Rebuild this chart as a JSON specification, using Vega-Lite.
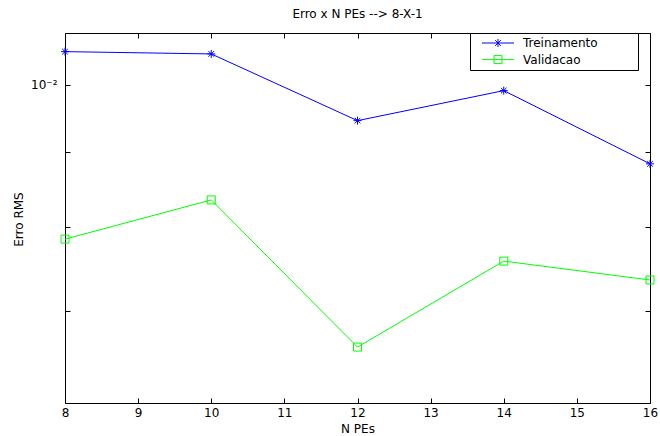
{
  "$schema": "https://vega.github.io/schema/vega-lite/v6.json",
  "width": 585,
  "height": 370,
  "autosize": {"type": "none"},
  "padding": {"left": 65, "top": 33, "right": 10, "bottom": 33},
  "background": "white",
  "title": {"text": "Erro x N PEs --> 8-X-1", "font": "DejaVu Sans", "fontSize": 12, "fontWeight": "normal", "color": "black", "anchor": "middle", "frame": "group", "baseline": "alphabetic", "offset": 3},
  "config": {
    "view": {"stroke": "black", "strokeWidth": 1},
    "axis": {"labelFont": "DejaVu Sans", "labelFontSize": 12, "labelColor": "black", "titleFont": "DejaVu Sans", "titleFontSize": 12, "titleFontWeight": "normal", "titleColor": "black", "tickColor": "black", "domain": false, "grid": false, "tickSize": -5, "labelFlush": false}
  },
  "data": {"values": [
    {"n": 8, "erro": 0.010539, "serie": "Treinamento"},
    {"n": 10, "erro": 0.010501, "serie": "Treinamento"},
    {"n": 12, "erro": 0.009453, "serie": "Treinamento"},
    {"n": 14, "erro": 0.009911, "serie": "Treinamento"},
    {"n": 16, "erro": 0.008831, "serie": "Treinamento"},
    {"n": 8, "erro": 0.007843, "serie": "Validacao"},
    {"n": 10, "erro": 0.008343, "serie": "Validacao"},
    {"n": 12, "erro": 0.006616, "serie": "Validacao"},
    {"n": 14, "erro": 0.007576, "serie": "Validacao"},
    {"n": 16, "erro": 0.007354, "serie": "Validacao"}
  ]},
  "layer": [
    {
      "mark": {"type": "line", "strokeWidth": 1},
      "encoding": {
        "x": {"field": "n", "type": "quantitative", "scale": {"domain": [8, 16], "nice": false, "zero": false},
              "axis": {"orient": "bottom", "values": [8, 9, 10, 11, 12, 13, 14, 15, 16], "format": "d", "labelPadding": 9, "title": "N PEs", "titleY": 29, "titleBaseline": "alphabetic"}},
        "y": {"field": "erro", "type": "quantitative", "scale": {"type": "log", "domain": [0.006058, 0.010853], "nice": false, "zero": false},
              "axis": {"orient": "left", "values": [0.007, 0.008, 0.009, 0.01], "labelExpr": "datum.value == 0.01 ? '10⁻²' : ''", "labelPadding": 13, "title": "Erro RMS", "titleX": -43, "titleY": 186, "titleAngle": 270, "titleAlign": "center", "titleBaseline": "alphabetic"}},
        "color": {"field": "serie", "type": "nominal",
                  "scale": {"domain": ["Treinamento", "Validacao"], "range": ["#0000ff", "#00ff00"]},
                  "legend": {"title": null, "orient": "none", "legendX": 405, "legendY": 0, "strokeColor": "black", "fillColor": "white", "padding": 4, "labelFont": "DejaVu Sans", "labelFontSize": 12, "labelColor": "black", "labelOffset": 37, "symbolSize": 64, "rowPadding": 4.6, "symbolStrokeWidth": 1,
                    "encode": {"symbols": {"update": {
                      "shape": {"signal": "datum.value === 'Treinamento' ? 'M0.5,0H8.5M4.5,-1V1M3.8,-0.7L5.2,0.7M3.8,0.7L5.2,-0.7M38,0' : 'M0.5,0H8.5M3.5,-1H5.5V1H3.5ZM38,0'"},
                      "fill": {"value": "transparent"},
                      "strokeWidth": {"value": 1}
                    }}}}}
      }
    },
    {
      "transform": [{"filter": "datum.serie === 'Treinamento'"}],
      "mark": {"type": "point", "filled": false, "strokeWidth": 1, "size": 64, "opacity": 1, "shape": "M-1,0H1M0,-1V1M-0.7,-0.7L0.7,0.7M-0.7,0.7L0.7,-0.7"},
      "encoding": {
        "x": {"field": "n", "type": "quantitative", "axis": {"orient": "top", "values": [8, 9, 10, 11, 12, 13, 14, 15, 16], "labels": false, "title": null}},
        "y": {"field": "erro", "type": "quantitative", "axis": {"orient": "right", "values": [0.007, 0.008, 0.009, 0.01], "labels": false, "title": null}},
        "color": {"field": "serie", "type": "nominal"}
      }
    },
    {
      "transform": [{"filter": "datum.serie === 'Validacao'"}],
      "mark": {"type": "point", "filled": false, "strokeWidth": 1, "size": 64, "opacity": 1, "shape": "M-1,-1H1V1H-1Z"},
      "encoding": {
        "x": {"field": "n", "type": "quantitative", "axis": null},
        "y": {"field": "erro", "type": "quantitative", "axis": null},
        "color": {"field": "serie", "type": "nominal"}
      }
    }
  ],
  "resolve": {"axis": {"x": "independent", "y": "independent"}}
}
